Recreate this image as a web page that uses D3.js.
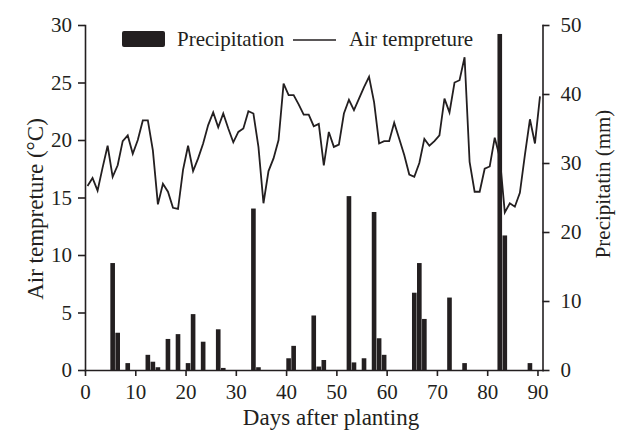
<!DOCTYPE html>
<html>
<head>
<meta charset="utf-8">
<script src="https://cdn.jsdelivr.net/npm/d3@7"></script>
<style>
  body { margin: 0; background: #fff; }
  svg text { font-family: "Liberation Serif", "Times New Roman", serif; fill: #231f20; }
  .axis path, .axis line { stroke: #231f20; stroke-width: 1.6; }
  .axis text { font-size: 21px; }
</style>
</head>
<body>
<svg id="chart" width="622" height="430"></svg>
<script>
// --- data ---
var days = d3.range(0, 91);
var airTemp = [
  16.0, 16.7, 15.6, 17.6, 19.5, 16.8, 17.8, 19.9, 20.4, 18.8,
  20.0, 21.7, 21.7, 19.1, 14.4, 16.2, 15.5, 14.1, 14.0, 17.4,
  19.5, 17.3, 18.4, 19.7, 21.3, 22.4, 21.1, 22.3, 21.0, 19.8,
  20.7, 21.0, 22.5, 22.3, 19.4, 14.5, 17.3, 18.4, 20.0, 24.9,
  23.9, 23.9, 23.1, 22.2, 22.2, 21.2, 21.4, 17.8, 20.7, 19.4,
  19.6, 22.3, 23.5, 22.6, 23.6, 24.6, 25.5, 23.3, 19.7, 19.9,
  19.9, 21.5, 20.1, 18.7, 17.0, 16.8, 18.0, 20.1, 19.5, 19.9,
  20.4, 23.6, 22.4, 25.0, 25.2, 27.2, 18.1, 15.5, 15.5, 17.5,
  17.7, 20.2, 18.5, 13.7, 14.5, 14.2, 15.4, 18.7, 21.8, 19.7,
  23.8
];
var rainDays = [5, 6, 8, 12, 13, 14, 16, 18, 20, 21, 23, 26, 27, 33, 34, 40, 41, 45, 46, 47,
                52, 53, 55, 57, 58, 59, 65, 66, 67, 72, 75, 82, 83, 88];
var rainMM   = [15.5, 5.4, 1.0, 2.2, 1.2, 0.4, 4.5, 5.2, 1.0, 8.1, 4.1, 5.9, 0.3, 23.4, 0.4, 1.7, 3.5, 7.9, 0.5, 1.45,
                25.2, 1.1, 1.7, 22.9, 4.6, 2.2, 11.2, 15.5, 7.4, 10.5, 1.0, 48.7, 19.5, 1.0];
var xTicks = [0, 10, 20, 30, 40, 50, 60, 70, 80, 90];
var tempTicks = [0, 5, 10, 15, 20, 25, 30];
var rainTicks = [0, 10, 20, 30, 40, 50];

var ink = "#231f20";

// --- layout ---
var plotL = 85, plotR = 542.5, plotT = 25, plotB = 370;
var svg = d3.select("#chart");

var x = d3.scaleLinear().domain([0, 91]).range([plotL, plotR]);
var xBand = d3.scaleBand().domain(days).range([plotL, plotR]).paddingInner(0);
var yT = d3.scaleLinear().domain([0, 30]).range([plotB, plotT]);
var yP = d3.scaleLinear().domain([0, 50]).range([plotB, plotT]);

// bars (precipitation, right axis)
var rain = rainDays.map(function(d, i) { return { day: d, mm: rainMM[i] }; });
svg.append("g").selectAll("rect")
    .data(rain)
    .enter().append("rect")
    .attr("x", function(d) { return xBand(d.day) + 0.2; })
    .attr("width", xBand.bandwidth() - 0.4)
    .attr("y", function(d) { return yP(d.mm); })
    .attr("height", function(d) { return plotB - yP(d.mm); })
    .attr("fill", ink);

// temperature line (left axis)
var line = d3.line()
    .x(function(d, i) { return xBand(days[i]) + xBand.bandwidth() / 2; })
    .y(function(d) { return yT(d); });
svg.append("path")
    .datum(airTemp)
    .attr("d", line)
    .attr("fill", "none")
    .attr("stroke", ink)
    .attr("stroke-width", 1.8)
    .attr("stroke-linejoin", "miter");

// axes
svg.append("g").attr("class", "axis")
    .attr("transform", "translate(0," + plotB + ")")
    .call(d3.axisBottom(x).tickValues(xTicks).tickSize(6).tickSizeOuter(0).tickPadding(8));

svg.append("g").attr("class", "axis")
    .attr("transform", "translate(" + plotL + ",0)")
    .call(d3.axisLeft(yT).tickValues(tempTicks).tickSize(7).tickSizeOuter(0).tickPadding(6));

svg.append("g").attr("class", "axis")
    .attr("transform", "translate(" + plotR + ",0)")
    .call(d3.axisRight(yP).tickValues(rainTicks).tickSize(7).tickSizeOuter(0).tickPadding(11));

svg.selectAll(".axis .domain").attr("stroke-linecap", "square");

// axis titles
svg.append("text")
    .attr("transform", "translate(43,209) rotate(-90)")
    .attr("text-anchor", "middle")
    .style("font-size", "23px")
    .text("Air tempreture (°C)");

svg.append("text")
    .attr("transform", "translate(610,184) rotate(-90)")
    .attr("text-anchor", "middle")
    .style("font-size", "21px")
    .text("Precipitatin (mm)");

svg.append("text")
    .attr("x", 331).attr("y", 425)
    .attr("text-anchor", "middle")
    .style("font-size", "23px")
    .text("Days after planting");

// legend
var lg = svg.append("g");
lg.append("rect")
    .attr("x", 122).attr("y", 31).attr("width", 43).attr("height", 16)
    .attr("rx", 2).attr("fill", ink);
lg.append("text").attr("x", 177).attr("y", 46).style("font-size", "21px").text("Precipitation");
lg.append("line")
    .attr("x1", 293).attr("x2", 336).attr("y1", 40).attr("y2", 40)
    .attr("stroke", ink).attr("stroke-width", 1.6);
lg.append("text").attr("x", 349).attr("y", 46).style("font-size", "21px").text("Air tempreture");
</script>
</body>
</html>
